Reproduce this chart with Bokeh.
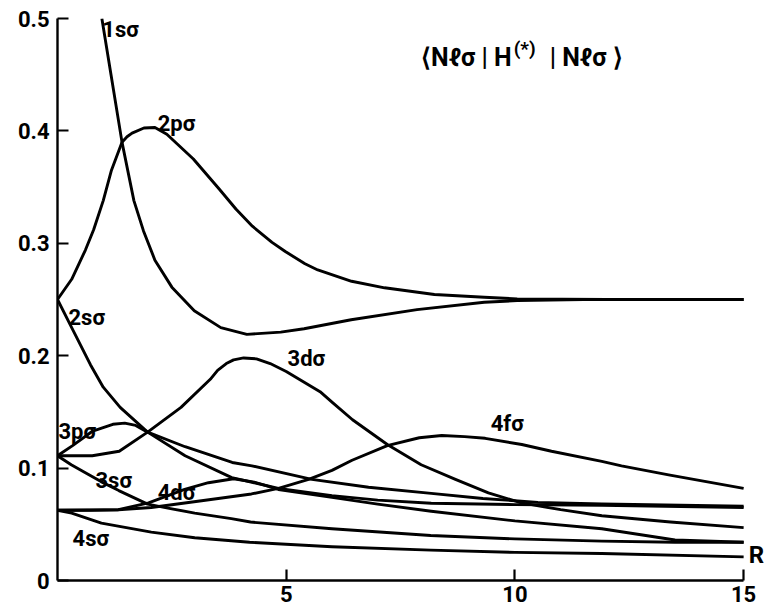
from bokeh.plotting import figure
from bokeh.models import Range1d, FixedTicker, Label
from bokeh.embed import file_html
from bokeh.resources import INLINE

# ---- data (R, value) ----
r_1s = [0.97, 1.17, 1.41, 1.67, 1.88, 2.13, 2.50, 2.99, 3.57, 4.14, 4.88, 5.39, 6.42, 7.86, 9.33, 10.05, 11.5, 13.0, 15.0]
v_1s = [0.500, 0.450, 0.390, 0.338, 0.311, 0.285, 0.261, 0.240, 0.225, 0.219, 0.221, 0.224, 0.232, 0.241, 0.2475, 0.249, 0.250, 0.250, 0.250]

r_2p = [0.0, 0.31, 0.61, 0.79, 1.0, 1.18, 1.41, 1.52, 1.63, 1.89, 2.13, 2.39, 2.97, 3.53, 3.90, 4.26, 4.69, 4.98, 5.41, 5.69, 6.43, 7.15, 8.24, 9.33, 10.05, 12.0, 15.0]
v_2p = [0.250, 0.268, 0.294, 0.312, 0.338, 0.365, 0.390, 0.3948, 0.398, 0.4026, 0.403, 0.397, 0.375, 0.3485, 0.3305, 0.3152, 0.3008, 0.2927, 0.2818, 0.2763, 0.2662, 0.2604, 0.2545, 0.252, 0.2505, 0.250, 0.250]

r_2s = [0.0, 0.36, 0.72, 1.0, 1.37, 1.97, 2.79, 3.81, 4.3, 4.83, 6.0, 7.0, 8.17, 10.0, 11.9, 15.0]
v_2s = [0.250, 0.221, 0.192, 0.172, 0.154, 0.132, 0.111, 0.0915, 0.087, 0.082, 0.0755, 0.0715, 0.0687, 0.0675, 0.067, 0.065]

r_3p = [0.0, 0.33, 0.77, 1.21, 1.47, 1.71, 1.97, 2.79, 3.82, 4.25, 5.56, 6.8, 8.17, 9.3, 10.5, 11.9, 15.0]
v_3p = [0.111, 0.120, 0.133, 0.139, 0.140, 0.138, 0.132, 0.119, 0.105, 0.102, 0.090, 0.083, 0.0775, 0.073, 0.0695, 0.068, 0.066]

r_3d = [0.0, 0.76, 1.35, 1.97, 2.7, 3.34, 3.5, 3.69, 3.85, 4.07, 4.35, 4.65, 5.0, 5.74, 6.02, 6.45, 7.21, 7.95, 8.7, 9.42, 10.14, 11.0, 11.9, 13.4, 15.0]
v_3d = [0.111, 0.111, 0.115, 0.132, 0.154, 0.179, 0.187, 0.193, 0.1963, 0.198, 0.1972, 0.193, 0.186, 0.168, 0.158, 0.143, 0.121, 0.103, 0.090, 0.078, 0.069, 0.063, 0.0576, 0.052, 0.047]

r_3s = [0.0, 0.3, 0.6, 0.95, 1.34, 1.97, 2.47, 3.0, 3.8, 4.22, 6.0, 8.16, 10.0, 11.9, 13.5, 15.0]
v_3s = [0.111, 0.103, 0.096, 0.088, 0.080, 0.068, 0.064, 0.060, 0.055, 0.052, 0.046, 0.040, 0.037, 0.035, 0.034, 0.034]

r_4f = [0.0, 1.33, 2.05, 3.15, 4.24, 4.83, 5.49, 6.0, 6.44, 7.21, 7.91, 8.4, 8.9, 9.35, 10.15, 10.8, 11.9, 12.33, 13.36, 15.0]
v_4f = [0.0625, 0.063, 0.065, 0.071, 0.077, 0.082, 0.090, 0.098, 0.107, 0.120, 0.127, 0.129, 0.128, 0.1265, 0.121, 0.115, 0.106, 0.102, 0.094, 0.082]

r_4d = [0.0, 0.7, 1.33, 1.99, 2.78, 3.3, 3.85, 4.3, 4.83, 6.0, 7.0, 8.17, 10.0, 11.9, 13.5, 15.0]
v_4d = [0.0625, 0.0625, 0.063, 0.069, 0.081, 0.087, 0.0905, 0.0875, 0.081, 0.074, 0.068, 0.0616, 0.053, 0.046, 0.036, 0.034]

r_4s = [0.0, 0.31, 0.96, 2.05, 3.0, 4.2, 6.0, 8.16, 10.0, 11.9, 15.0]
v_4s = [0.0625, 0.060, 0.051, 0.043, 0.038, 0.034, 0.030, 0.027, 0.025, 0.024, 0.021]

curves = [(r_1s, v_1s), (r_2p, v_2p), (r_2s, v_2s), (r_3p, v_3p), (r_3d, v_3d),
          (r_3s, v_3s), (r_4f, v_4f), (r_4d, v_4d), (r_4s, v_4s)]

curve_labels = ["1sσ", "2pσ", "2sσ", "3dσ", "4fσ", "3pσ", "3sσ", "4dσ", "4sσ"]
label_r = [0.98, 2.19, 0.24, 5.03, 9.47, 0.02, 0.83, 2.19, 0.33]
label_v = [0.490, 0.4066, 0.234, 0.1975, 0.1397, 0.1326, 0.089, 0.0783, 0.0374]

y_ticks = [0, 0.1, 0.2, 0.3, 0.4, 0.5]
y_tick_labels = ["0", "0.1", "0.2", "0.3", "0.4", "0.5"]
x_ticks = [5, 10, 15]
x_tick_labels = ["5", "10", "15"]

FONT = "Roboto"
FS = "22px"

p = figure(width=767, height=609, output_backend="svg", toolbar_location=None,
           x_range=Range1d(0, 15.5), y_range=Range1d(0, 0.5),
           min_border_left=57, min_border_right=1, min_border_top=18, min_border_bottom=29)
p.outline_line_color = None
p.grid.visible = False
p.background_fill_color = "white"
p.border_fill_color = "white"

for r, v in curves:
    p.line(r, v, line_color="black", line_width=2.9, line_join="round")

for ax in (p.xaxis[0], p.yaxis[0]):
    ax.axis_line_width = 2.4
    ax.axis_line_color = "black"
    ax.major_tick_in = 11
    ax.major_tick_out = 0
    ax.major_tick_line_width = 2.2
    ax.minor_tick_line_color = None
    ax.major_label_text_font = FONT
    ax.major_label_text_font_size = FS
    ax.major_label_text_font_style = "bold"
    ax.major_label_text_color = "black"

p.xaxis[0].bounds = (0, 15)
p.yaxis[0].ticker = FixedTicker(ticks=y_ticks)
p.yaxis[0].major_label_overrides = {t: s for t, s in zip(y_ticks, y_tick_labels)}
p.yaxis[0].major_label_standoff = 8
p.xaxis[0].ticker = FixedTicker(ticks=x_ticks)
p.xaxis[0].major_label_overrides = {t: s for t, s in zip(x_ticks, x_tick_labels)}
p.xaxis[0].major_label_standoff = 5

for txt, x, y in zip(curve_labels, label_r, label_v):
    p.add_layout(Label(x=x, y=y, text=txt, text_font=FONT, text_font_size=FS,
                       text_font_style="bold", text_color="black",
                       text_align="left", text_baseline="middle"))

# axis name R at the end of the abscissa
p.add_layout(Label(x=15, y=0.0231, x_offset=5, text="R", text_font=FONT, text_font_size="24px",
                   text_font_style="bold", text_color="black",
                   text_align="left", text_baseline="middle"))

# title  <Nlσ|H^(*)|Nlσ>
TX, TY = 9.93, 0.465
p.add_layout(Label(x=TX, y=TY, text="⟨Nℓσ | H", text_font=FONT, text_font_size="25px",
                   text_font_style="bold", text_color="black",
                   text_align="right", text_baseline="middle"))
p.add_layout(Label(x=TX, y=TY, x_offset=2, y_offset=9, text="(*)", text_font=FONT,
                   text_font_size="19px", text_font_style="bold", text_color="black",
                   text_align="left", text_baseline="middle"))
p.add_layout(Label(x=TX, y=TY, x_offset=38, text="| Nℓσ ⟩", text_font=FONT,
                   text_font_size="25px", text_font_style="bold", text_color="black",
                   text_align="left", text_baseline="middle"))

open("out.html", "w").write(file_html(p, INLINE))
